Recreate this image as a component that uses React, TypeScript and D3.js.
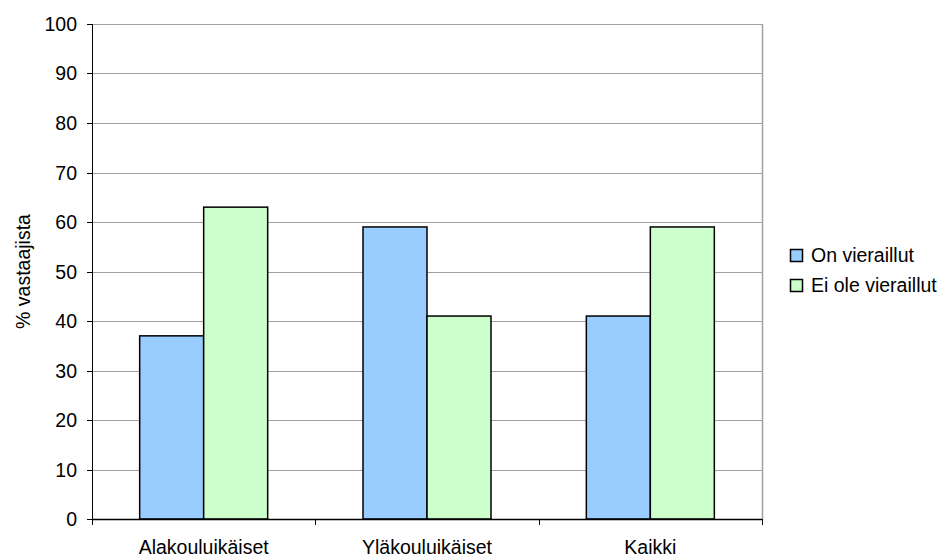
import React, { useEffect, useRef } from "react";
import * as d3 from "d3";

const categories = ["Alakouluikäiset", "Yläkouluikäiset", "Kaikki"];
const seriesNames = ["On vieraillut", "Ei ole vieraillut"];
const onVieraillut = [37, 59, 41];
const eiOleVieraillut = [63, 41, 59];
const yTicks = [0, 10, 20, 30, 40, 50, 60, 70, 80, 90, 100];
const colors = ["#99ccff", "#ccffcc"];

const App = () => {
  const ref = useRef<SVGSVGElement | null>(null);

  useEffect(() => {
    const svg = d3.select(ref.current);
    svg.selectAll("*").remove();
    const margin = { top: 24, left: 92, right: 189, bottom: 39 };
    const width = 951 - margin.left - margin.right;
    const height = 558 - margin.top - margin.bottom;
    const font = "Arial, 'Liberation Sans', sans-serif";
    const fs = 19.5;

    const g = svg
      .append("g")
      .attr("transform", "translate(" + margin.left + "," + margin.top + ")");

    const x = d3.scaleBand().domain(categories).range([0, width]);
    const y = d3.scaleLinear().domain([0, 100]).range([height, 0]);

    // grid lines
    g.selectAll(".grid")
      .data(yTicks.filter((t) => t > 0))
      .enter()
      .append("line")
      .attr("x1", 0)
      .attr("x2", width)
      .attr("y1", (d) => Math.round(y(d)) + 0.5)
      .attr("y2", (d) => Math.round(y(d)) + 0.5)
      .attr("stroke", "#a0a0a0")
      .attr("stroke-width", 1);

    // right border
    g.append("line")
      .attr("x1", width + 0.5)
      .attr("x2", width + 0.5)
      .attr("y1", 0)
      .attr("y2", height)
      .attr("stroke", "#a0a0a0")
      .attr("stroke-width", 1.5);

    // bars
    const barW = 64;
    const data = categories.map((c, i) => ({ c, vals: [onVieraillut[i], eiOleVieraillut[i]] }));
    data.forEach((d) => {
      const cx = (x(d.c) as number) + x.bandwidth() / 2;
      d.vals.forEach((v, j) => {
        g.append("rect")
          .attr("x", cx - barW + j * barW)
          .attr("y", y(v))
          .attr("width", barW)
          .attr("height", height - y(v))
          .attr("fill", colors[j])
          .attr("stroke", "#000")
          .attr("stroke-width", 1.5);
      });
    });

    // y axis
    g.append("line")
      .attr("x1", 0.5)
      .attr("x2", 0.5)
      .attr("y1", 0)
      .attr("y2", height)
      .attr("stroke", "#000");
    yTicks.forEach((t) => {
      const yy = Math.round(y(t)) + 0.5;
      g.append("line")
        .attr("x1", -5)
        .attr("x2", 0)
        .attr("y1", yy)
        .attr("y2", yy)
        .attr("stroke", "#000");
      g.append("text")
        .attr("x", -15)
        .attr("y", yy)
        .attr("dy", "0.35em")
        .attr("text-anchor", "end")
        .attr("font-family", font)
        .attr("font-size", fs)
        .text(t);
    });

    // x axis
    g.append("line")
      .attr("x1", 0)
      .attr("x2", width)
      .attr("y1", height + 0.5)
      .attr("y2", height + 0.5)
      .attr("stroke", "#000")
      .attr("stroke-width", 1.5);
    [0, 1, 2, 3].forEach((i) => {
      const xx = Math.round(i * x.step()) + 0.5;
      g.append("line")
        .attr("x1", xx)
        .attr("x2", xx)
        .attr("y1", height)
        .attr("y2", height + 6)
        .attr("stroke", "#000");
    });
    categories.forEach((c) => {
      g.append("text")
        .attr("x", (x(c) as number) + x.bandwidth() / 2)
        .attr("y", height + 35)
        .attr("text-anchor", "middle")
        .attr("font-family", font)
        .attr("font-size", fs)
        .text(c);
    });

    // y label
    svg
      .append("text")
      .attr("transform", "translate(30," + (margin.top + height / 2) + ") rotate(-90)")
      .attr("text-anchor", "middle")
      .attr("font-family", font)
      .attr("font-size", fs)
      .text("% vastaajista");

    // legend
    seriesNames.forEach((s, i) => {
      const ly = 249 + i * 30;
      svg
        .append("rect")
        .attr("x", 790.5)
        .attr("y", ly + 0.5)
        .attr("width", 12)
        .attr("height", 12)
        .attr("fill", colors[i])
        .attr("stroke", "#000")
        .attr("stroke-width", 1.5);
      svg
        .append("text")
        .attr("x", 811)
        .attr("y", ly + 6)
        .attr("dy", "0.35em")
        .attr("font-family", font)
        .attr("font-size", fs)
        .text(s);
    });
  }, []);

  return (
    <svg
      ref={ref}
      width={951}
      height={558}
      style={{ position: "absolute", left: 0, top: 0, background: "#fff" }}
    ></svg>
  );
};

export default App;
